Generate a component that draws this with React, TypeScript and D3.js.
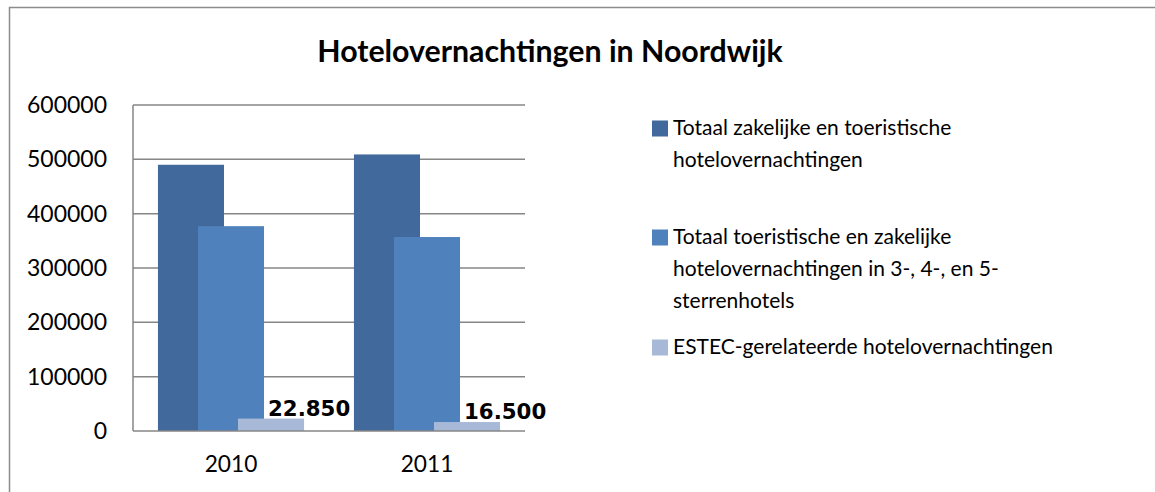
import React from 'react';
import * as d3 from 'd3';

const categories = ['2010', '2011'];
const seriesNames = [
  ['Totaal zakelijke en toeristische', 'hotelovernachtingen'],
  ['Totaal toeristische en zakelijke', 'hotelovernachtingen in 3-, 4-, en 5-', 'sterrenhotels'],
  ['ESTEC-gerelateerde hotelovernachtingen'],
];
const totalValues = [490000, 509000];
const starValues = [377000, 357000];
const estecValues = [22850, 16500];
const estecLabels = ['22.850', '16.500'];
const yTicks = [0, 100000, 200000, 300000, 400000, 500000, 600000];
const colors = ['#41699c', '#4f81bd', '#a8b9d8'];

const font = 'Lato, Carlito, Calibri, sans-serif';

const App = () => {
  const left = 133, right = 525, top = 105, bottom = 431;
  const x = d3.scaleBand().domain(categories).range([left, right]);
  const y = d3.scaleLinear().domain([0, 600000]).range([bottom, top]);
  const series = [totalValues, starValues, estecValues];
  const barW = x.bandwidth() * 0.337;
  const offset = d3.scaleLinear().domain([0, 2]).range([-barW * 0.606, barW * 0.606]);

  const legendRows = [
    { y: 128, lines: seriesNames[0] },
    { y: 237, lines: seriesNames[1] },
    { y: 347, lines: seriesNames[2] },
  ];

  return (
    <svg width={1155} height={492} style={{ position: 'absolute', left: 0, top: 0, background: '#fff' }}>
      <path d="M9.5,600 V7.5 H1200" fill="none" stroke="#8c8c8c" strokeWidth={1.5} />
      <text x={550} y={62} textAnchor="middle" fontFamily={font} fontWeight="bold" fontSize={30.3} fill="#000">
        Hotelovernachtingen in Noordwijk
      </text>

      {yTicks.map((t) => (
        <g key={t}>
          {t > 0 && <line x1={left} x2={right} y1={y(t)} y2={y(t)} stroke="#868686" strokeWidth={1.5} />}
          <text x={107} y={y(t)} dy="0.35em" textAnchor="end" fontFamily={font} fontSize={23} fill="#000">
            {t}
          </text>
        </g>
      ))}

      {series.map((vals, si) =>
        vals.map((v, ci) => {
          const cx = x(categories[ci])! + x.bandwidth() / 2 + offset(si);
          return (
            <rect key={si + '-' + ci} x={cx - barW / 2} y={y(v)} width={barW} height={bottom - y(v)} fill={colors[si]} />
          );
        })
      )}

      <line x1={left} x2={right} y1={bottom} y2={bottom} stroke="#868686" strokeWidth={1.5} />
      <line x1={left} x2={left} y1={top} y2={bottom} stroke="#868686" strokeWidth={1.5} />

      {estecValues.map((v, ci) => {
        const cx = x(categories[ci])! + x.bandwidth() / 2 + offset(2);
        return (
          <text key={ci} x={cx - 3} y={y(v) - 3} fontFamily="'DejaVu Sans', Verdana, sans-serif" fontWeight="bold" fontSize={21.3} fill="#000">
            {estecLabels[ci]}
          </text>
        );
      })}

      {categories.map((c) => (
        <text key={c} x={x(c)! + x.bandwidth() / 2} y={472} textAnchor="middle" fontFamily={font} fontSize={22.7} fill="#000">
          {c}
        </text>
      ))}

      {legendRows.map((row, i) => (
        <g key={i}>
          <rect x={652} y={row.y - 7.5} width={16} height={16} fill={colors[i]} />
          {row.lines.map((ln, li) => (
            <text key={li} x={673} y={row.y + li * 32} dy="0.35em" fontFamily={font} fontSize={21} fill="#000">
              {ln}
            </text>
          ))}
        </g>
      ))}
    </svg>
  );
};

export default App;
